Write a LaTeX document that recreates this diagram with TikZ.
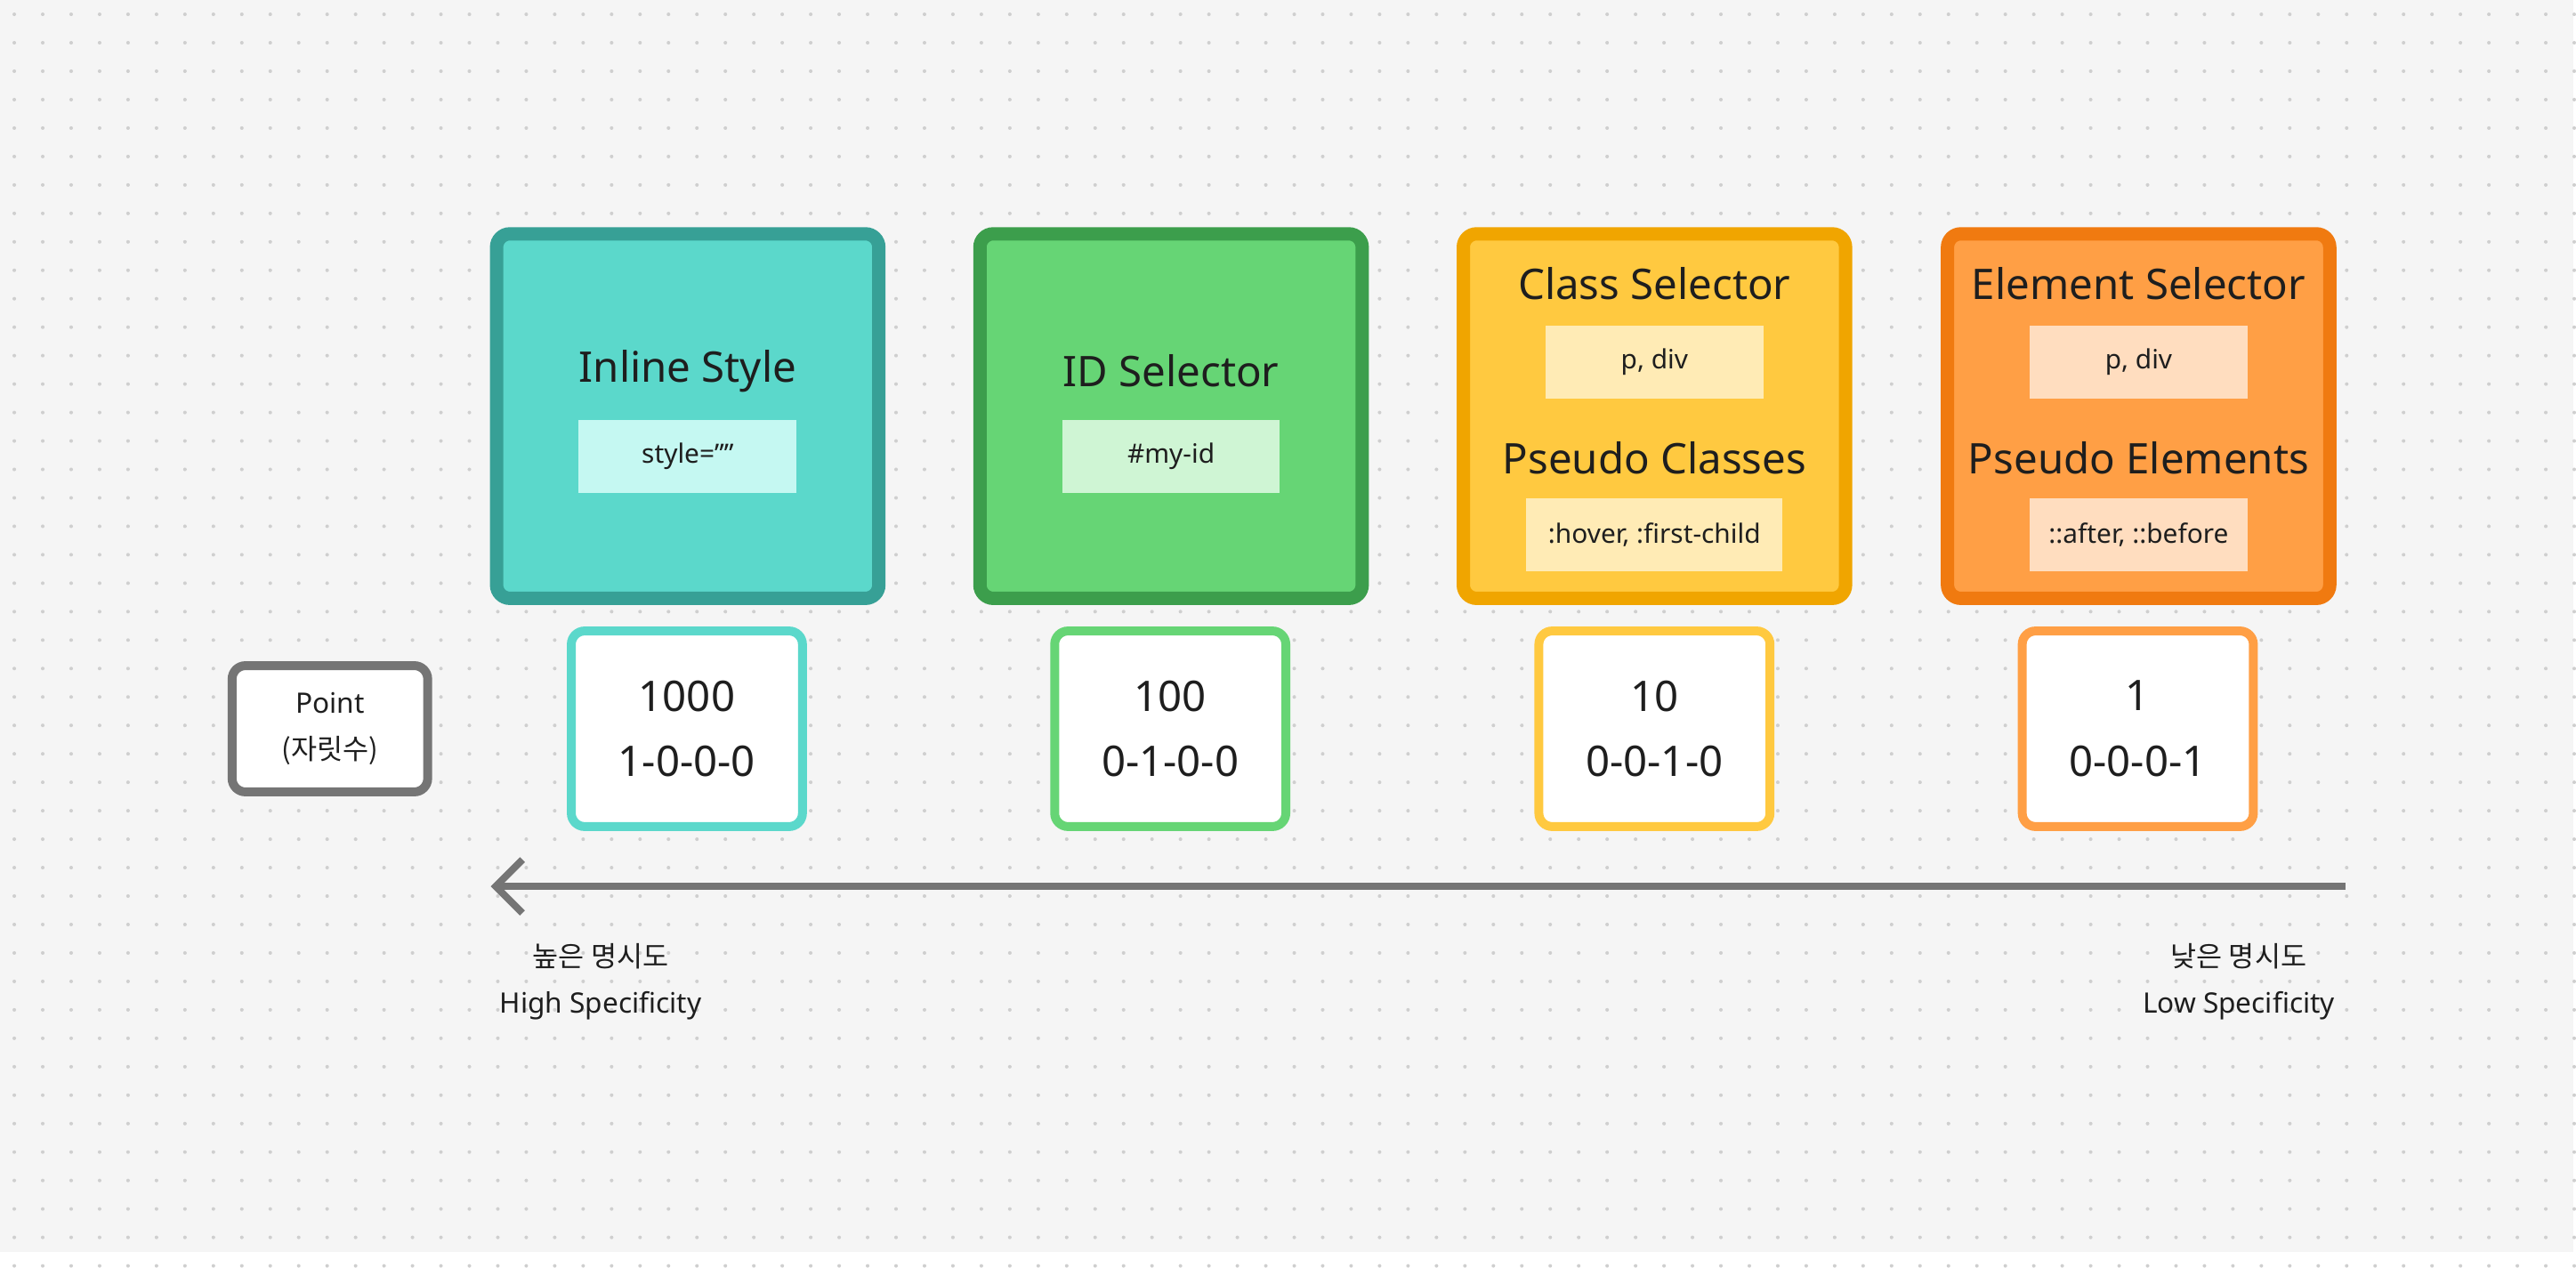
\documentclass[tikz,border=0pt]{standalone}
\usepackage{fontspec}
\setmainfont{Noto Sans}
\newfontfamily\kr{Noto Sans CJK KR}
\usetikzlibrary{arrows.meta}
\definecolor{bg}{HTML}{F5F5F5}
\definecolor{dotc}{HTML}{CFCFCF}
\definecolor{tealF}{HTML}{5BD8CB}\definecolor{tealD}{HTML}{37A096}\definecolor{tealL}{HTML}{C5F8F2}
\definecolor{grnF}{HTML}{66D575}\definecolor{grnD}{HTML}{3C9E4C}\definecolor{grnL}{HTML}{CFF5D4}
\definecolor{ylwF}{HTML}{FFC940}\definecolor{ylwD}{HTML}{F0A500}\definecolor{ylwL}{HTML}{FFEBB5}
\definecolor{orgF}{HTML}{FF9F45}\definecolor{orgD}{HTML}{F07A10}\definecolor{orgL}{HTML}{FFDDBF}
\definecolor{ink}{HTML}{1E1E1E}
\definecolor{arr}{HTML}{757575}
\begin{document}
\begin{tikzpicture}[
	x=0.01846cm, y=-0.01846cm,
	sel/.style={% big selector boxes
		rectangle,
		rounded corners=1.5mm,
		line width=1.5mm,
		minimum width=4.3cm,
		minimum height=4.1cm,
	},
	tag/.style={
		rectangle,
		text=ink,
		font=\fontsize{8.5}{10}\selectfont,
		minimum width=2.45cm,
		minimum height=0.82cm,
	},
	title/.style={text=ink, font=\fontsize{13.5}{16}\selectfont},
	pts/.style={
		rectangle,
		rounded corners=1.5mm,
		line width=1mm,
		fill=white,
		align=center,
		text=ink,
		font=\fontsize{13.5}{21}\selectfont,
		minimum width=2.6cm,
		minimum height=2.2cm,
	},
	lbl/.style={align=center, text=ink, font=\fontsize{9}{15}\selectfont},
]
	\fill[bg] (0,0) rectangle (1568,763);
	\foreach \i in {0,...,90}
		\foreach \j in {0,...,44}
			\fill[dotc] (8.7+17.33*\i,8.7+17.33*\j) circle (1.1);

	% selector boxes
	\node [sel, fill=tealF, draw=tealD] (inline) at (419,253.5) {};
	\node [sel, fill=grnF, draw=grnD] (idsel) at (713.5,253.5) {};
	\node [sel, fill=ylwF, draw=ylwD] (classsel) at (1008,253.5) {};
	\node [sel, fill=orgF, draw=orgD] (elemsel) at (1303,253.5) {};

	\node [title] (inlineT) at (419,226) {Inline Style};
	\node [tag, fill=tealL] (inlineV) at (419,278) {style=””};

	\node [title] (idT) at (713.5,226) {ID Selector};
	\node [tag, fill=grnL] (idV) at (713.5,278) {\#my-id};

	\node [title] (classT) at (1008,173) {Class Selector};
	\node [tag, fill=ylwL] (classV) at (1008,220.5) {p, div};
	\node [title] (pclassT) at (1008,279) {Pseudo Classes};
	\node [tag, fill=ylwL, minimum width=2.88cm] (pclassV) at (1008,326) {:hover, :first-child};

	\node [title] (elemT) at (1303,173) {Element Selector};
	\node [tag, fill=orgL] (elemV) at (1303,220.5) {p, div};
	\node [title] (pelemT) at (1303,279) {Pseudo Elements};
	\node [tag, fill=orgL] (pelemV) at (1303,326) {::after, ::before};

	% points
	\node [lbl, rectangle, rounded corners=1.5mm, line width=1mm, draw=arr, fill=white,
		minimum width=2.2cm, minimum height=1.42cm] (point) at (201,444) {Point\\{\kr(자릿수)}};
	\node [pts, draw=tealF] (p1000) at (418.5,444) {1000\\1-0-0-0};
	\node [pts, draw=grnF] (p100) at (713,444) {100\\0-1-0-0};
	\node [pts, draw=ylwF] (p10) at (1008,444) {10\\0-0-1-0};
	\node [pts, draw=orgF] (p1) at (1302.5,444) {1\\0-0-0-1};

	% specificity axis
	\coordinate (low) at (1429,540);
	\coordinate (high) at (299,540);
	\draw [arr, line width=0.8mm, -{Straight Barb[length=3mm, width=6mm, line width=0.8mm]}] (low) -- (high);
	\node [lbl] (highL) at (366,598) {{\kr 높은 명시도}\\High Specificity};
	\node [lbl] (lowL) at (1364,598) {{\kr 낮은 명시도}\\Low Specificity};
\end{tikzpicture}
\end{document}
